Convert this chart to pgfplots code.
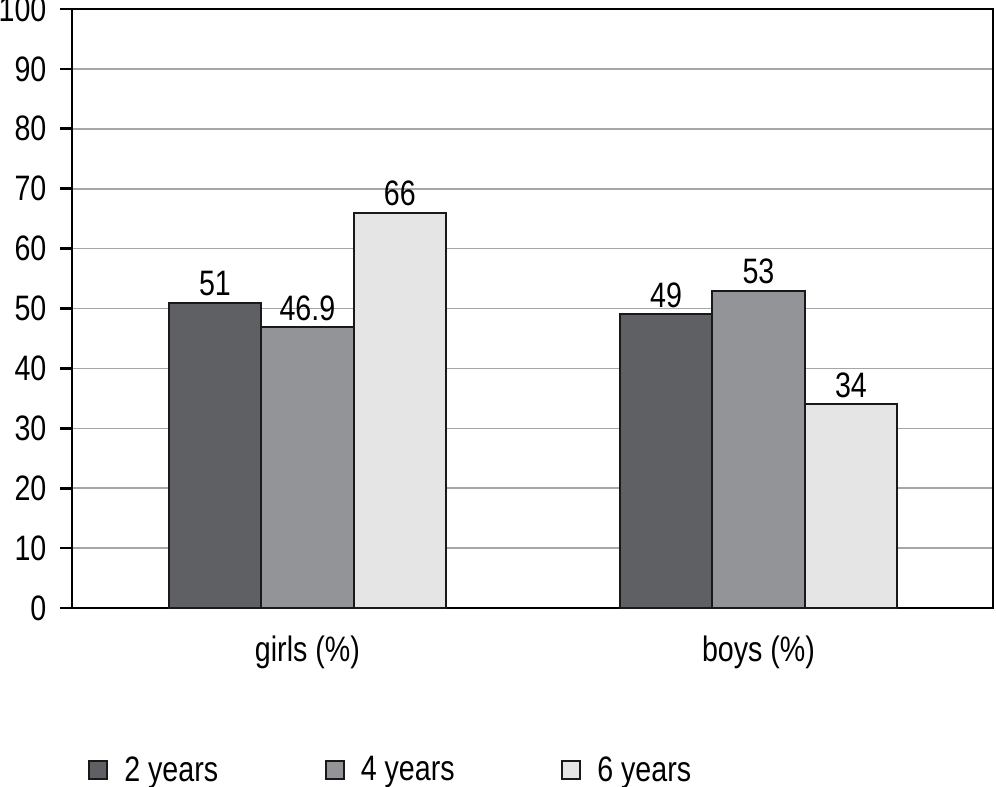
\documentclass[border=0pt]{standalone}
\usepackage{fontspec}
\setmainfont{Liberation Sans}[FakeStretch=0.81]
\usepackage{pgfplots}
\pgfplotsset{compat=1.18}
\definecolor{cA}{HTML}{5F6063}
\definecolor{cB}{HTML}{939498}
\definecolor{cC}{HTML}{E4E5E4}
\definecolor{grid}{HTML}{A6A6A6}
\newcommand\cf{\fontsize{26.5}{31}\selectfont}
\begin{document}
\begin{tikzpicture}
\useasboundingbox (-54pt,-133.5pt) rectangle (693pt,456pt);
\begin{axis}[
  at={(0,0)}, anchor=south west,
  scale only axis, width=690.75pt, height=449.25pt,
  ybar=0pt, bar width=0.205,
  xmin=-0.522, xmax=1.52, ymin=0, ymax=100,
  xtick={0,1}, xticklabels={girls (\%), boys (\%)},
  ytick={0,10,...,100},
  major x tick style={draw=none},
  ytick pos=left, tick align=outside, major tick length=9pt,
  tick style={line width=2pt, black},
  axis line style={line width=2pt, black},
  ymajorgrids, y grid style={grid, line width=1.2pt},
  /pgf/number format/assume math mode=true,
  tick label style={font=\cf},
  yticklabel style={inner sep=0pt, xshift=-10pt},
  xticklabel style={inner sep=0pt, yshift=-12pt},
  nodes near coords, every node near coord/.append style={font=\cf, inner sep=1pt, yshift=3pt, black},
  legend columns=3,
  legend style={at={(rel axis cs:0.0174,-0.270)}, anchor=west, draw=none, fill=none, inner sep=0pt, font=\cf,
    /tikz/every odd column/.append style={column sep=10pt},
    /tikz/every even column/.append style={column sep=78pt}},
  legend cell align=left,
  legend image code/.code={\draw[#1, line width=1.5pt] (0pt,-6.75pt) rectangle (13.5pt,6.75pt);},
  every axis plot/.append style={draw=black!90, line width=1.5pt},
]
\addplot[fill=cA] coordinates {(0,51) (1,49)};
\addplot[fill=cB] coordinates {(0,46.9) (1,53)};
\addplot[fill=cC] coordinates {(0,66) (1,34)};
\legend{2 years,4 years,6 years}
\end{axis}
\end{tikzpicture}
\end{document}
